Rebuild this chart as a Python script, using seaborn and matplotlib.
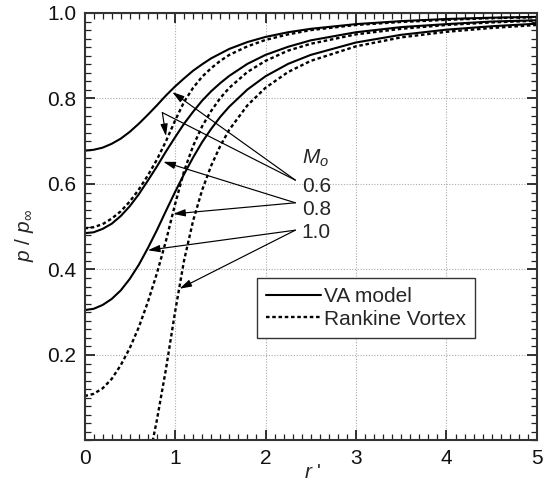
import matplotlib
matplotlib.use("Agg")
import matplotlib.pyplot as plt
from matplotlib.lines import Line2D
from matplotlib.ticker import MultipleLocator
import seaborn as sns
import pandas as pd

# ---- data ----
r = [0.0, 0.1, 0.2, 0.3, 0.4, 0.5, 0.6, 0.7, 0.8, 0.9, 1.0, 1.1, 1.2, 1.3, 1.4,
     1.5, 1.6, 1.8, 2.0, 2.25, 2.5, 3.0, 3.5, 4.0, 4.5, 5.0]
va_06 = [0.678, 0.680, 0.685, 0.694, 0.706, 0.722, 0.741, 0.762, 0.784, 0.807, 0.828,
         0.847, 0.865, 0.880, 0.894, 0.905, 0.916, 0.932, 0.944, 0.955, 0.963, 0.974,
         0.981, 0.986, 0.989, 0.991]
va_08 = [0.485, 0.487, 0.495, 0.507, 0.525, 0.548, 0.576, 0.608, 0.641, 0.676, 0.709,
         0.741, 0.769, 0.795, 0.817, 0.836, 0.853, 0.881, 0.902, 0.921, 0.936, 0.955,
         0.967, 0.974, 0.980, 0.983]
va_10 = [0.305, 0.308, 0.317, 0.331, 0.351, 0.378, 0.411, 0.450, 0.492, 0.537, 0.581,
         0.623, 0.662, 0.698, 0.729, 0.757, 0.781, 0.821, 0.852, 0.881, 0.902, 0.931,
         0.949, 0.961, 0.969, 0.975]
rk_06 = [0.496, 0.499, 0.506, 0.519, 0.536, 0.559, 0.587, 0.620, 0.657, 0.700, 0.748,
         0.792, 0.825, 0.851, 0.871, 0.888, 0.902, 0.922, 0.937, 0.950, 0.960, 0.972,
         0.979, 0.984, 0.988, 0.990]
rk_08 = [0.104, 0.109, 0.122, 0.144, 0.176, 0.216, 0.265, 0.324, 0.391, 0.467, 0.552,
         0.630, 0.689, 0.735, 0.771, 0.801, 0.825, 0.862, 0.888, 0.912, 0.928, 0.950,
         0.963, 0.972, 0.978, 0.982]
rk_10 = [-0.400, -0.393, -0.372, -0.337, -0.288, -0.225, -0.148, -0.057, 0.048, 0.167,
         0.300, 0.421, 0.514, 0.586, 0.643, 0.689, 0.727, 0.784, 0.825, 0.862, 0.888,
         0.922, 0.943, 0.956, 0.965, 0.972]

mach_labels = ["0.6", "0.8", "1.0"]
legend_labels = ["VA model", "Rankine Vortex"]
x_ticks = [0, 1, 2, 3, 4, 5]
y_ticks = [0.2, 0.4, 0.6, 0.8, 1.0]

sns.set_style("ticks")
plt.rcParams["font.family"] = ["Liberation Sans", "DejaVu Sans"]
plt.rcParams["mathtext.fontset"] = "custom"
plt.rcParams["mathtext.rm"] = "Liberation Sans"
plt.rcParams["mathtext.it"] = "Liberation Sans:italic"

FS = 15

fig = plt.figure(figsize=(5.47, 4.83), dpi=100)
ax = fig.add_axes([0.1545, 0.088, 0.8272, 0.8851])

dash = (0, (1.5, 1.15))
series = [(va_06, "-"), (va_08, "-"), (va_10, "-"),
          (rk_06, dash), (rk_08, dash), (rk_10, dash)]
for vals, ls in series:
    df = pd.DataFrame({"r": r, "p": vals})
    sns.lineplot(data=df, x="r", y="p", ax=ax, color="black",
                 lw=(1.5 if ls == "-" else 1.7),
                 linestyle=ls, legend=False, estimator=None, sort=False)

ax.set_xlim(0, 5)
ax.set_ylim(0, 1.0)
ax.set_xticks(x_ticks)
ax.set_xticklabels([str(t) for t in x_ticks])
ax.set_yticks(y_ticks)
ax.set_yticklabels([f"{t:.1f}" for t in y_ticks])
ax.xaxis.set_minor_locator(MultipleLocator(0.1))
ax.yaxis.set_minor_locator(MultipleLocator(0.02))
ax.tick_params(which="both", direction="in", top=True, right=True,
               labelsize=FS, colors="#222222", labelcolor="#111111")
ax.tick_params(which="major", length=7, width=1.3, pad=6)
ax.tick_params(which="minor", length=4, width=0.9)
ax.grid(True, which="major", linestyle=(0, (1, 1.5)), color="#aaaaaa", lw=0.8)
for s in ax.spines.values():
    s.set_linewidth(1.5)
    s.set_color("#333333")
ax.set_xlabel("")
ax.set_ylabel("")

fig.text(24 / 547, 1 - 235 / 483, r"$p$ / $p_\infty$", rotation=90,
         ha="center", va="center", fontsize=FS)
fig.text(313 / 547, 1 - 472 / 483, r"$r$ '", ha="center", va="center",
         fontsize=FS)

# annotation labels
ax.text(2.40, 0.648, r"$M_o$", fontsize=FS, ha="left", va="baseline")
label_base = [0.582, 0.527, 0.473]
for lab, yb in zip(mach_labels, label_base):
    ax.text(2.40, yb, lab, fontsize=FS, ha="left", va="baseline")

aprops = dict(arrowstyle="-|>,head_length=0.6,head_width=0.18", color="black",
              lw=0.85, shrinkA=0, shrinkB=0, mutation_scale=12)
tails = [(2.33, 0.609), (2.33, 0.556), (2.33, 0.492)]
# 0.6
ax.annotate("", xy=(0.97, 0.815), xytext=tails[0], arrowprops=aprops)
ax.plot([tails[0][0], 0.86], [tails[0][1], 0.767], color="black", lw=0.85)
ax.annotate("", xy=(0.90, 0.712), xytext=(0.86, 0.767), arrowprops=aprops)
# 0.8
ax.annotate("", xy=(0.87, 0.652), xytext=tails[1], arrowprops=aprops)
ax.annotate("", xy=(0.98, 0.530), xytext=tails[1], arrowprops=aprops)
# 1.0
ax.annotate("", xy=(0.70, 0.445), xytext=tails[2], arrowprops=aprops)
ax.annotate("", xy=(1.05, 0.355), xytext=tails[2], arrowprops=aprops)

handles = [Line2D([], [], color="black", lw=1.5, linestyle="-"),
           Line2D([], [], color="black", lw=1.7, linestyle=dash)]
leg = ax.legend(handles, legend_labels, loc="upper left",
                bbox_to_anchor=(0.381, 0.381), frameon=True, fancybox=False,
                edgecolor="#333333", framealpha=1, handlelength=2.65,
                handletextpad=0.1, borderpad=0.45, labelspacing=0.18,
                fontsize=FS, borderaxespad=0)
leg.get_frame().set_linewidth(1.0)

fig.savefig("out.png", dpi=100)
